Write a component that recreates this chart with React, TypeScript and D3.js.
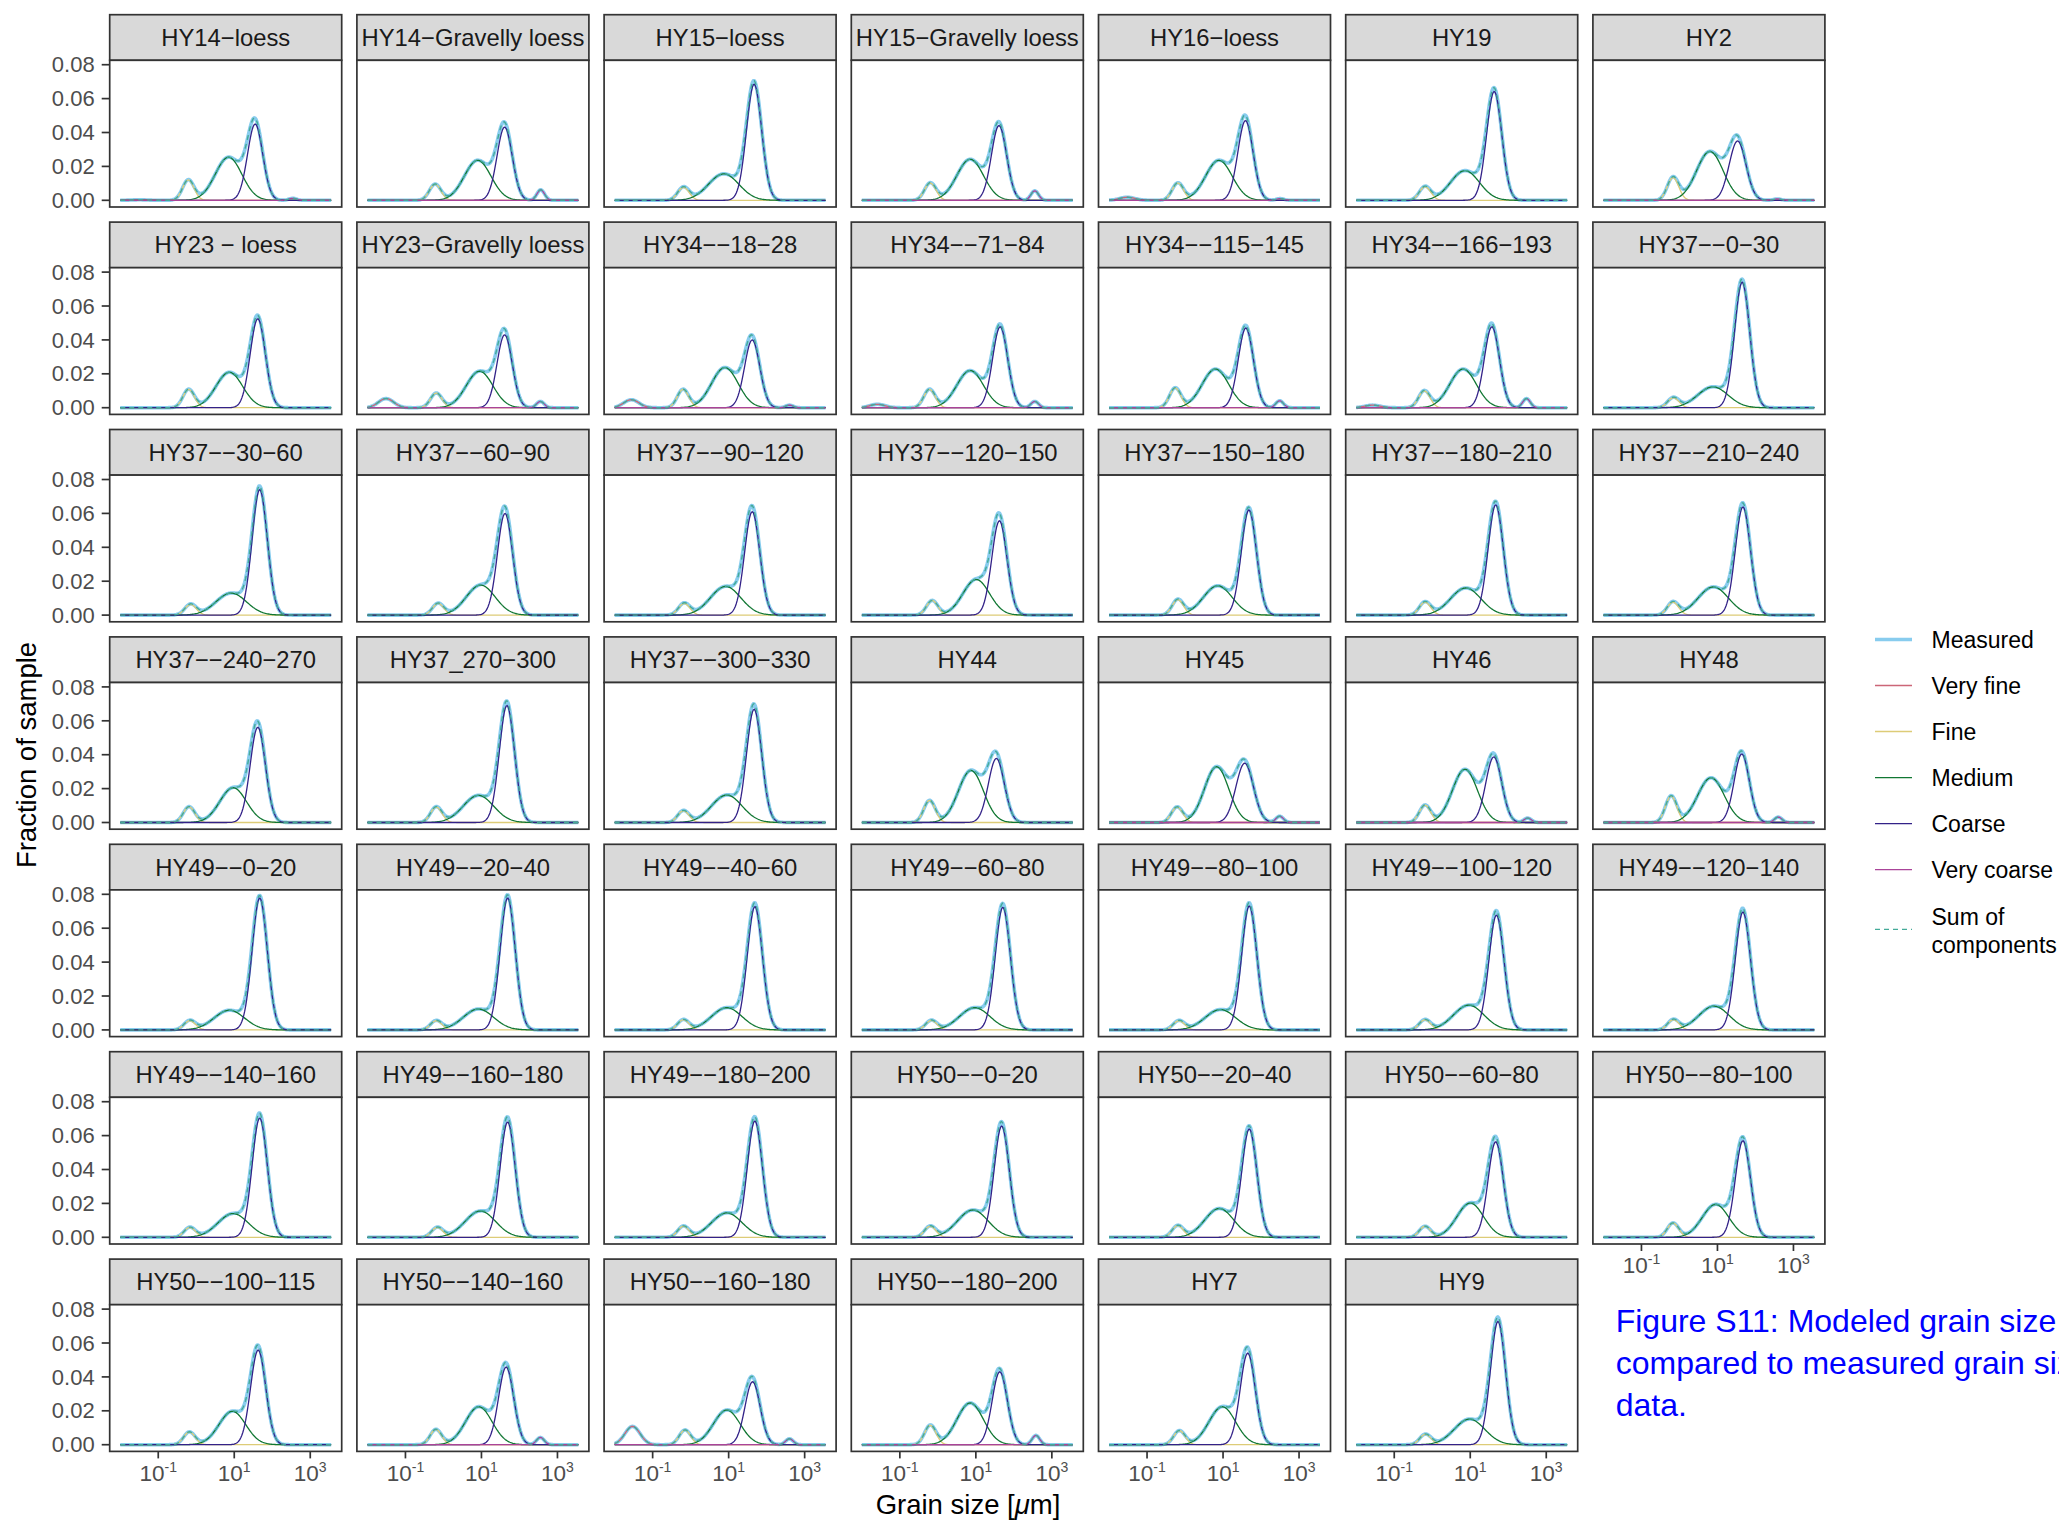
import React, { useEffect } from "react";
import * as d3 from "d3";

// ---------------- data ----------------
const sampleNames = [
  "HY14-loess", "HY14-Gravelly loess", "HY15-loess", "HY15-Gravelly loess", "HY16-loess", "HY19", "HY2",
  "HY23 - loess", "HY23-Gravelly loess", "HY34--18-28", "HY34--71-84", "HY34--115-145", "HY34--166-193", "HY37--0-30",
  "HY37--30-60", "HY37--60-90", "HY37--90-120", "HY37--120-150", "HY37--150-180", "HY37--180-210", "HY37--210-240",
  "HY37--240-270", "HY37_270-300", "HY37--300-330", "HY44", "HY45", "HY46", "HY48",
  "HY49--0-20", "HY49--20-40", "HY49--40-60", "HY49--60-80", "HY49--80-100", "HY49--100-120", "HY49--120-140",
  "HY49--140-160", "HY49--160-180", "HY49--180-200", "HY50--0-20", "HY50--20-40", "HY50--60-80", "HY50--80-100",
  "HY50--100-115", "HY50--140-160", "HY50--160-180", "HY50--180-200", "HY7", "HY9",
];

// modes are log10(grain size in µm); heights are fraction of sample; widths in log10 units
const veryFineMode: (number | null)[] = [
  -1.5, -1.5, null, -1.5, -1.52, null, -1.5,
  null, -1.51, -1.56, -1.59, -1.5, -1.57, null,
  null, null, null, null, null, null, null,
  null, null, null, null, -1.5, -1.5, -1.5,
  null, null, null, null, null, null, null,
  null, null, null, null, null, null, null,
  null, -1.5, -1.53, -1.5, null, null,
];
const veryFineHeight: (number | null)[] = [
  0.0003, 0, null, 0, 0.0018, null, 0,
  null, 0.0054, 0.0047, 0.002, 0, 0.0015, null,
  null, null, null, null, null, null, null,
  null, null, null, null, 0, 0, 0,
  null, null, null, null, null, null, null,
  null, null, null, null, null, null, null,
  null, 0, 0.0108, 0, null, null,
];
const fineMode = [
  -0.21, -0.22, -0.19, -0.2, -0.19, -0.19, -0.17,
  -0.2, -0.19, -0.2, -0.22, -0.26, -0.21, -0.16,
  -0.15, -0.14, -0.17, -0.15, -0.19, -0.19, -0.17,
  -0.19, -0.19, -0.19, -0.22, -0.21, -0.19, -0.22,
  -0.17, -0.19, -0.19, -0.17, -0.16, -0.19, -0.16,
  -0.17, -0.16, -0.19, -0.2, -0.19, -0.19, -0.17,
  -0.18, -0.2, -0.15, -0.2, -0.15, -0.18,
];
const fineHeight = [
  0.012, 0.0095, 0.0076, 0.0102, 0.0102, 0.008, 0.0134,
  0.0108, 0.0086, 0.0108, 0.0108, 0.0116, 0.0099, 0.0058,
  0.0063, 0.0069, 0.0069, 0.0086, 0.0091, 0.0076, 0.0076,
  0.0093, 0.0091, 0.0069, 0.013, 0.0091, 0.0102, 0.0156,
  0.0054, 0.0054, 0.006, 0.0056, 0.0054, 0.006, 0.006,
  0.0058, 0.0058, 0.0065, 0.0065, 0.0069, 0.0065, 0.0084,
  0.0075, 0.009, 0.0086, 0.0114, 0.0083, 0.0061,
];
const mediumMode = [
  0.85, 0.9, 0.87, 0.85, 0.89, 0.86, 0.8,
  0.87, 0.95, 0.9, 0.85, 0.8, 0.81, 0.88,
  0.92, 0.98, 0.92, 1.01, 0.86, 0.88, 0.89,
  0.97, 0.92, 0.95, 0.87, 0.83, 0.86, 0.83,
  0.87, 0.92, 0.95, 0.97, 0.93, 0.96, 0.91,
  0.97, 0.97, 0.95, 0.92, 0.9, 1.0, 0.95,
  0.95, 0.93, 0.95, 0.85, 0.98, 0.98,
];
const mediumHeight = [
  0.0254, 0.0236, 0.0156, 0.0242, 0.0236, 0.0175, 0.0288,
  0.0209, 0.0215, 0.0237, 0.0219, 0.0228, 0.0228, 0.0123,
  0.013, 0.0177, 0.0169, 0.021, 0.0173, 0.016, 0.0166,
  0.0205, 0.016, 0.0162, 0.0307, 0.0329, 0.0314, 0.0264,
  0.0116, 0.0123, 0.0131, 0.0131, 0.012, 0.0146, 0.014,
  0.014, 0.0155, 0.0144, 0.0161, 0.017, 0.0202, 0.0194,
  0.0197, 0.0224, 0.0204, 0.0246, 0.0224, 0.0151,
];
const mediumWidth = [
  0.35, 0.35, 0.4, 0.35, 0.35, 0.38, 0.35,
  0.35, 0.35, 0.35, 0.35, 0.35, 0.35, 0.4,
  0.4, 0.38, 0.4, 0.35, 0.38, 0.4, 0.4,
  0.35, 0.4, 0.4, 0.33, 0.32, 0.33, 0.35,
  0.4, 0.4, 0.4, 0.4, 0.4, 0.4, 0.4,
  0.4, 0.4, 0.4, 0.4, 0.38, 0.35, 0.35,
  0.35, 0.35, 0.35, 0.35, 0.35, 0.4,
];
const coarseMode = [
  1.55, 1.61, 1.67, 1.61, 1.59, 1.63, 1.53,
  1.62, 1.61, 1.62, 1.64, 1.6, 1.57, 1.65,
  1.67, 1.62, 1.62, 1.62, 1.68, 1.67, 1.67,
  1.62, 1.67, 1.67, 1.54, 1.57, 1.62, 1.64,
  1.67, 1.69, 1.69, 1.71, 1.69, 1.69, 1.67,
  1.67, 1.69, 1.69, 1.68, 1.69, 1.67, 1.67,
  1.63, 1.65, 1.63, 1.63, 1.65, 1.73,
];
const coarseHeight = [
  0.045, 0.0432, 0.0685, 0.0441, 0.047, 0.0642, 0.035,
  0.0525, 0.043, 0.04, 0.0477, 0.047, 0.0477, 0.074,
  0.074, 0.06, 0.061, 0.0556, 0.062, 0.065, 0.0638,
  0.0562, 0.069, 0.0668, 0.0378, 0.035, 0.0387, 0.0404,
  0.0778, 0.0778, 0.0727, 0.0723, 0.0731, 0.0677, 0.0695,
  0.0703, 0.068, 0.0686, 0.0656, 0.0639, 0.0563, 0.057,
  0.0558, 0.0458, 0.0371, 0.043, 0.054, 0.0727,
];
const coarseWidth = [
  0.2, 0.2, 0.2, 0.2, 0.2, 0.2, 0.22,
  0.2, 0.2, 0.2, 0.2, 0.2, 0.2, 0.2,
  0.2, 0.2, 0.2, 0.2, 0.2, 0.2, 0.2,
  0.2, 0.2, 0.2, 0.21, 0.23, 0.21, 0.2,
  0.2, 0.2, 0.2, 0.2, 0.2, 0.2, 0.2,
  0.2, 0.2, 0.2, 0.2, 0.2, 0.2, 0.2,
  0.2, 0.2, 0.2, 0.2, 0.2, 0.2,
];
const veryCoarseMode: (number | null)[] = [
  2.54, 2.56, null, 2.55, 2.5, null, 2.58,
  null, 2.55, 2.6, 2.55, 2.49, 2.48, null,
  null, null, null, null, null, null, null,
  null, null, null, null, 2.49, 2.51, 2.6,
  null, null, null, null, null, null, null,
  null, null, null, null, null, null, null,
  null, 2.55, 2.6, 2.58, null, null,
];
const veryCoarseHeight: (number | null)[] = [
  0.0012, 0.0062, null, 0.0056, 0.001, null, 0.0008,
  null, 0.0037, 0.0015, 0.0037, 0.0041, 0.0054, null,
  null, null, null, null, null, null, null,
  null, null, null, null, 0.0037, 0.0026, 0.0032,
  null, null, null, null, null, null, null,
  null, null, null, null, null, null, null,
  null, 0.0043, 0.0035, 0.0055, null, null,
];
const veryFineWidth = 0.2;
const fineWidth = 0.15;
const veryCoarseWidth = 0.1;

// grain-size classes of the measurement (log10 µm, 0.01 .. ~3500 µm)
const sizeClassesLog = d3.range(-2, 3.5501, 0.025);

const yTicks = [0, 0.02, 0.04, 0.06, 0.08];
const xTicks = [0.1, 10, 1000];
const xTickExp = ["-1", "1", "3"];

const legendLabels = ["Measured", "Very fine", "Fine", "Medium", "Coarse", "Very coarse", "Sum of components"];
const COLORS = {
  measured: "#88CCEE",
  veryFine: "#CC6677",
  fine: "#DDCC77",
  medium: "#117733",
  coarse: "#332288",
  veryCoarse: "#AA4499",
  sum: "#44AA99",
};

// ---------------- layout ----------------
const W = 2059;
const H = 1524;
const NCOL = 7;
const PANEL_W = 232;
const STRIP_H = 45.6;
const PANEL_H = 146.7;
const COL0 = 109.7;
const COL_STEP = 247.2;
const ROW0 = 14.7;
const ROW_STEP = 207.4;
const FONT = "'Liberation Sans', Arial, Helvetica, sans-serif";
const BORDER = "#333333";

const x = d3.scaleLog().domain([Math.pow(10, -2.2775), Math.pow(10, 3.8275)]).range([0, PANEL_W]);
const y = d3.scaleLinear().domain([-0.00395, 0.0826]).range([PANEL_H, 0]);

const gauss = (lx: number, mode: number, h: number, s: number) => h * Math.exp(-0.5 * ((lx - mode) / s) ** 2);

type Comp = { key: keyof typeof COLORS; mode: number; h: number; s: number };

function componentsOf(i: number): Comp[] {
  const out: Comp[] = [];
  if (veryFineMode[i] !== null) out.push({ key: "veryFine", mode: veryFineMode[i] as number, h: veryFineHeight[i] as number, s: veryFineWidth });
  out.push({ key: "fine", mode: fineMode[i], h: fineHeight[i], s: fineWidth });
  out.push({ key: "medium", mode: mediumMode[i], h: mediumHeight[i], s: mediumWidth[i] });
  out.push({ key: "coarse", mode: coarseMode[i], h: coarseHeight[i], s: coarseWidth[i] });
  if (veryCoarseMode[i] !== null) out.push({ key: "veryCoarse", mode: veryCoarseMode[i] as number, h: veryCoarseHeight[i] as number, s: veryCoarseWidth });
  return out;
}

const line = d3
  .line<[number, number]>()
  .x((d) => x(Math.pow(10, d[0])))
  .y((d) => y(d[1]))
  .curve(d3.curveLinear);

const prettyName = (s: string) => s.replace(/-/g, "\u2212");

function Panel({ i }: { i: number }) {
  const col = i % NCOL;
  const row = Math.floor(i / NCOL);
  const left = COL0 + col * COL_STEP;
  const top = ROW0 + row * ROW_STEP;
  const comps = componentsOf(i);
  const compSeries = comps.map((c) => ({
    key: c.key,
    pts: sizeClassesLog.map((lx) => [lx, gauss(lx, c.mode, c.h, c.s)] as [number, number]),
  }));
  const sumPts = sizeClassesLog.map((lx, k) => [lx, d3.sum(compSeries, (s) => s.pts[k][1])] as [number, number]);
  const isBottom = i + NCOL >= sampleNames.length;
  const panelTop = top + STRIP_H;
  return (
    <g>
      <rect x={left} y={top} width={PANEL_W} height={STRIP_H} fill="#D9D9D9" stroke={BORDER} strokeWidth={1.7} />
      <text
        x={left + PANEL_W / 2}
        y={top + STRIP_H / 2 + 8.4}
        textAnchor="middle"
        fontFamily={FONT}
        fontSize={23.8}
        fill="#1A1A1A"
      >
        {prettyName(sampleNames[i])}
      </text>
      <g transform={`translate(${left},${panelTop})`}>
        <rect x={0} y={0} width={PANEL_W} height={PANEL_H} fill="#FFFFFF" />
        <path d={line(sumPts) || ""} fill="none" stroke={COLORS.measured} strokeWidth={3.6} strokeLinejoin="round" />
        {compSeries.map((s) => (
          <path key={s.key} d={line(s.pts) || ""} fill="none" stroke={COLORS[s.key]} strokeWidth={1.3} />
        ))}
        <path d={line(sumPts) || ""} fill="none" stroke={COLORS.sum} strokeWidth={1.4} strokeDasharray="5,4" />
        <rect x={0} y={0} width={PANEL_W} height={PANEL_H} fill="none" stroke={BORDER} strokeWidth={1.7} />
        {col === 0 &&
          yTicks.map((t) => (
            <g key={t}>
              <line x1={-8} x2={0} y1={y(t)} y2={y(t)} stroke={BORDER} strokeWidth={1.7} />
              <text x={-15} y={y(t)} dy="0.35em" textAnchor="end" fontFamily={FONT} fontSize={22} fill="#4D4D4D">
                {t.toFixed(2)}
              </text>
            </g>
          ))}
        {isBottom &&
          xTicks.map((t, k) => (
            <g key={t}>
              <line x1={x(t)} x2={x(t)} y1={PANEL_H} y2={PANEL_H + 7} stroke={BORDER} strokeWidth={1.7} />
              <text x={x(t)} y={PANEL_H + 29.5} textAnchor="middle" fontFamily={FONT} fontSize={22.5} fill="#4D4D4D">
                10
                <tspan fontSize={14} dy={-9}>
                  {xTickExp[k]}
                </tspan>
              </text>
            </g>
          ))}
      </g>
    </g>
  );
}

function Legend() {
  const x0 = 1875;
  const x1 = 1912;
  const tx = 1931.5;
  const ys = [639.5, 685.5, 731.5, 777.7, 823.7, 869.7, 929.3];
  const keys: (keyof typeof COLORS)[] = ["measured", "veryFine", "fine", "medium", "coarse", "veryCoarse", "sum"];
  return (
    <g fontFamily={FONT} fontSize={23} fill="#000000">
      {keys.map((k, j) => (
        <g key={k}>
          <line
            x1={x0}
            x2={x1}
            y1={ys[j]}
            y2={ys[j]}
            stroke={COLORS[k]}
            strokeWidth={k === "measured" ? 3.6 : 1.3}
            strokeDasharray={k === "sum" ? "5,4" : undefined}
          />
          {k !== "sum" ? (
            <text x={tx} y={ys[j]} dy="0.35em">
              {legendLabels[j]}
            </text>
          ) : (
            <text x={tx} y={925}>
              <tspan x={tx}>Sum of</tspan>
              <tspan x={tx} dy={27.7}>
                components
              </tspan>
            </text>
          )}
        </g>
      ))}
    </g>
  );
}

export default function App() {
  useEffect(() => {
    document.body.style.margin = "0";
    document.body.style.overflow = "hidden";
  }, []);
  return (
    <svg
      width={W}
      height={H}
      viewBox={`0 0 ${W} ${H}`}
      style={{ position: "absolute", left: 0, top: 0, display: "block", background: "#FFFFFF" }}
    >
      <rect x={0} y={0} width={W} height={H} fill="#FFFFFF" />
      {sampleNames.map((_, i) => (
        <Panel key={i} i={i} />
      ))}
      <text
        transform={`translate(36,755) rotate(-90)`}
        textAnchor="middle"
        fontFamily={FONT}
        fontSize={27.5}
        fill="#000000"
      >
        Fraction of sample
      </text>
      <text x={968} y={1514} textAnchor="middle" fontFamily={FONT} fontSize={27.5} fill="#000000">
        Grain size [<tspan fontStyle="italic">μ</tspan>m]
      </text>
      <Legend />
      <g fontFamily={FONT} fontSize={32} fill="#0000FF">
        <text x={1615.7} y={1331.7}>Figure S11: Modeled grain size</text>
        <text x={1615.7} y={1373.5}>compared to measured grain size</text>
        <text x={1615.7} y={1416}>data.</text>
      </g>
    </svg>
  );
}
